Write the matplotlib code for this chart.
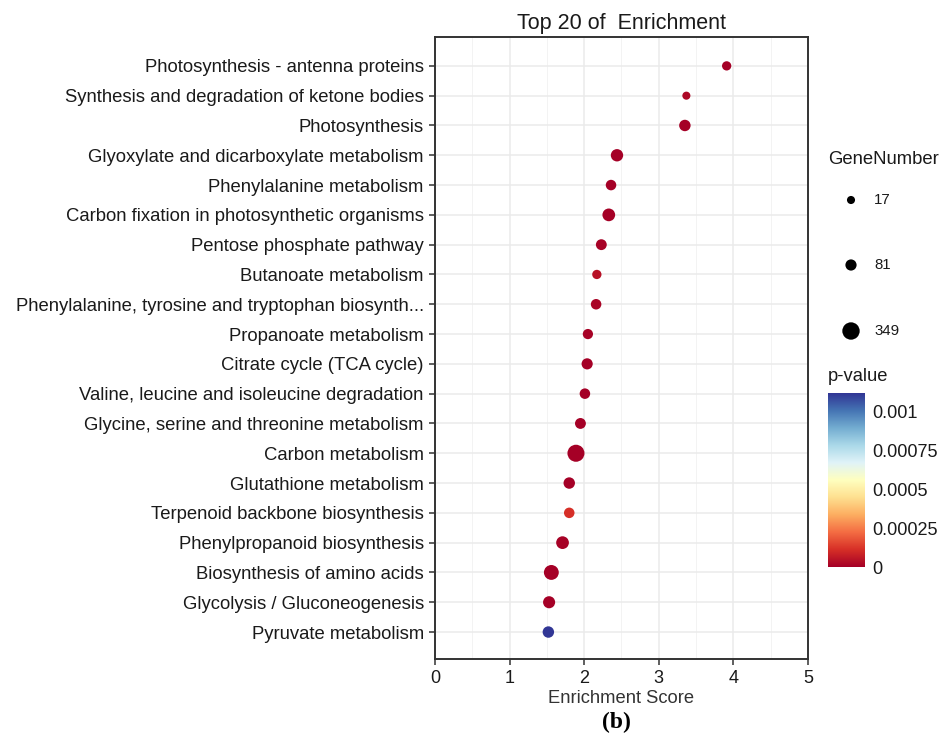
import numpy as np
import matplotlib
matplotlib.use("Agg")
import matplotlib.pyplot as plt
from matplotlib.colors import Normalize

plt.rcParams['font.family'] = ['Liberation Sans', 'DejaVu Sans']

# pathways listed bottom to top
pathways = [
    'Pyruvate metabolism',
    'Glycolysis / Gluconeogenesis',
    'Biosynthesis of amino acids',
    'Phenylpropanoid biosynthesis',
    'Terpenoid backbone biosynthesis',
    'Glutathione metabolism',
    'Carbon metabolism',
    'Glycine, serine and threonine metabolism',
    'Valine, leucine and isoleucine degradation',
    'Citrate cycle (TCA cycle)',
    'Propanoate metabolism',
    'Phenylalanine, tyrosine and tryptophan biosynth...',
    'Butanoate metabolism',
    'Pentose phosphate pathway',
    'Carbon fixation in photosynthetic organisms',
    'Phenylalanine metabolism',
    'Glyoxylate and dicarboxylate metabolism',
    'Photosynthesis',
    'Synthesis and degradation of ketone bodies',
    'Photosynthesis - antenna proteins',
]
enrich_score = [1.52, 1.53, 1.56, 1.71, 1.80, 1.80, 1.89, 1.95, 2.01, 2.04,
                2.05, 2.16, 2.17, 2.23, 2.33, 2.36, 2.44, 3.35, 3.37, 3.91]
gene_number = [88, 108, 218, 130, 63, 88, 330, 72, 63, 80,
               56, 63, 36, 72, 130, 63, 117, 88, 17, 36]
p_value = [0.00112, 2e-6, 1e-7, 5e-6, 0.000112, 3e-6, 1e-9, 4e-6, 2e-6, 3e-6,
           5e-6, 1e-5, 4e-5, 6e-6, 1e-6, 3e-6, 1e-7, 1e-6, 2e-5, 1e-6]

size_breaks = [17, 81, 349]
pval_ticks = [0, 0.00025, 0.0005, 0.00075, 0.001]
pval_labels = ['0', '0.00025', '0.0005', '0.00075', '0.001']


def marker_area(n):
    # dot diameter grows with sqrt of the gene count (px -> pt^2)
    d_px = (5.88 + 0.685 * np.sqrt(np.asarray(n, dtype=float))) * 0.93
    return (d_px * 0.72) ** 2


fig = plt.figure(figsize=(9.47, 7.38), dpi=100)
ax = fig.add_axes([0.4593, 0.1070, 0.3939, 0.8429])

cmap = plt.get_cmap('RdYlBu')
norm = Normalize(vmin=0, vmax=max(p_value))
ypos = np.arange(len(pathways))

ax.set_axisbelow(True)
ax.scatter(enrich_score, ypos, s=marker_area(gene_number), c=p_value,
           cmap=cmap, norm=norm, edgecolors='none', zorder=3)

ax.set_xlim(0, 5)
ax.set_ylim(-0.906, 19.97)
ax.set_xticks(range(6))
ax.set_xticks(np.arange(0.5, 5, 1), minor=True)
ax.set_yticks(ypos)
ax.set_yticklabels(pathways)
ax.grid(which='major', color='#ebebeb', linewidth=1.1)
ax.grid(which='minor', axis='x', color='#f3f3f3', linewidth=0.7)
ax.tick_params(axis='both', which='major', length=4, width=1.1,
               color='#333333', labelsize=13.3, labelcolor='#1a1a1a', pad=4)
ax.tick_params(axis='x', labelsize=13)
ax.tick_params(axis='x', which='minor', length=0)
for sp in ax.spines.values():
    sp.set_color('#333333')
    sp.set_linewidth(1.4)

ax.set_title('Top 20 of  Enrichment', fontsize=15.5, color='#1a1a1a', pad=6)
ax.set_xlabel('Enrichment Score', fontsize=13.2, color='#333333', labelpad=2)
fig.text(616 / 947, 1 - 722 / 738, '(b)', fontsize=17, fontweight='bold',
         family='Liberation Serif', ha='center', va='center')

# size legend
fig.text(828 / 947, 1 - 159 / 738, 'GeneNumber', fontsize=13.3,
         color='#1a1a1a', va='center', ha='left')
leg_ax = fig.add_axes([0.87, 0.5, 0.13, 0.3])
leg_ax.set_xlim(0, 1)
leg_ax.set_ylim(0, 1)
leg_ax.axis('off')
for n, ypx in zip(size_breaks, [200, 265, 331]):
    yy = (1 - ypx / 738 - 0.5) / 0.3
    xx = (851 / 947 - 0.87) / 0.13
    leg_ax.scatter([xx], [yy], s=marker_area(n), color='black',
                   edgecolors='none', clip_on=False)
    leg_ax.text((874 / 947 - 0.87) / 0.13, yy, str(n), fontsize=10.8,
                color='#1a1a1a', va='center', ha='left')

# colour bar for p-value
fig.text(828 / 947, 1 - 377 / 738, 'p-value', fontsize=13.2,
         color='#1a1a1a', va='center', ha='left')
cax = fig.add_axes([828 / 947, 1 - 567 / 738, 37 / 947, 174 / 738])
grad = np.linspace(0, max(p_value), 256).reshape(-1, 1)
cax.imshow(grad, aspect='auto', cmap=cmap, norm=norm, origin='lower',
           extent=[0, 1, 0, max(p_value)])
cax.set_xticks([])
cax.yaxis.tick_right()
cax.set_yticks(pval_ticks)
cax.set_yticklabels(pval_labels)
cax.tick_params(axis='y', length=0, labelsize=13.1, labelcolor='#1a1a1a', pad=5)
for sp in cax.spines.values():
    sp.set_visible(False)

fig.savefig('out.png', dpi=100)
